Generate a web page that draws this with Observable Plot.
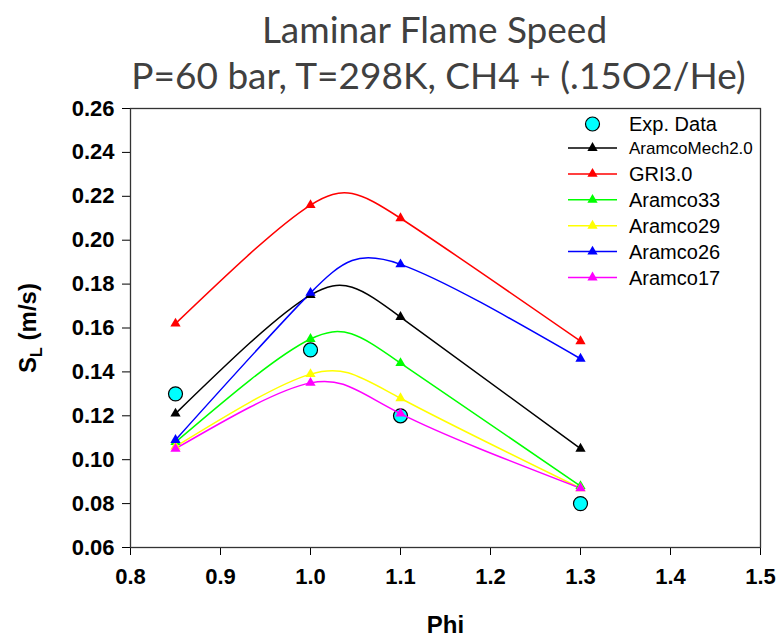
<!DOCTYPE html>
<html>
<head>
<meta charset="utf-8">
<script src="https://cdn.jsdelivr.net/npm/d3@7"></script>
<script src="https://cdn.jsdelivr.net/npm/@observablehq/plot@0.6"></script>
<style>
  body { margin: 0; background: #fff; }
  #chart { width: 781px; height: 641px; }
</style>
</head>
<body>
<div id="chart"></div>
<script>
// ---- data ----
const titleLines = ["Laminar Flame Speed", "P=60 bar, T=298K, CH4 + (.15O2/He)"];
const xLabel = "Phi";
const yLabelMain = "S";
const yLabelSub = "L";
const yLabelUnit = " (m/s)";
const phi = [0.85, 1.0, 1.1, 1.3];
const expData = [0.130, 0.150, 0.120, 0.080];
const aramcoMech20 = [0.121, 0.175, 0.165, 0.105];
const gri30 = [0.162, 0.216, 0.210, 0.154];
const aramco33 = [0.108, 0.155, 0.144, 0.088];
const aramco29 = [0.106, 0.139, 0.128, 0.087];
const aramco26 = [0.109, 0.176, 0.189, 0.146];
const aramco17 = [0.105, 0.135, 0.121, 0.087];
const seriesNames = ["AramcoMech2.0", "GRI3.0", "Aramco33", "Aramco29", "Aramco26", "Aramco17"];
const seriesValues = [aramcoMech20, gri30, aramco33, aramco29, aramco26, aramco17];
const seriesColors = ["#000000", "#ff0000", "#00ff00", "#ffff00", "#0000ff", "#ff00ff"];
const expName = "Exp. Data";
const xTicks = [0.8, 0.9, 1.0, 1.1, 1.2, 1.3, 1.4, 1.5];
const yTicks = [0.06, 0.08, 0.10, 0.12, 0.14, 0.16, 0.18, 0.20, 0.22, 0.24, 0.26];

// ---- tables ----
const modelRows = seriesNames.flatMap((name, i) =>
  phi.map((p, j) => ({series: name, phi: p, value: seriesValues[i][j]})));
const expRows = phi.map((p, j) => ({phi: p, value: expData[j]}));

const W = 781, H = 641;
const M = {top: 108, right: 21, bottom: 94, left: 130};
const arial = "'Liberation Sans', Arial, sans-serif";

const chart = Plot.plot({
  width: W,
  height: H,
  marginTop: M.top, marginRight: M.right, marginBottom: M.bottom, marginLeft: M.left,
  style: {fontFamily: arial, background: "#fff", overflow: "visible"},
  x: {domain: [0.8, 1.5]},
  y: {domain: [0.06, 0.26]},
  color: {domain: seriesNames, range: seriesColors},
  marks: [
    Plot.axisX({ticks: xTicks, tickFormat: d3.format(".1f"), tickSize: 8, tickPadding: 13,
      fontSize: 22, fontWeight: "bold", label: null}),
    Plot.axisY({ticks: yTicks, tickFormat: d3.format(".2f"), tickSize: 8, tickPadding: 8,
      fontSize: 22, fontWeight: "bold", label: null}),
    Plot.frame({stroke: "#333", strokeWidth: 1.3}),
    Plot.dot(expRows, {x: "phi", y: "value", r: 7, fill: "#00ffff", stroke: "#000", strokeWidth: 1.2}),
    Plot.line(modelRows, {x: "phi", y: "value", z: "series", stroke: "series", strokeWidth: 1.5, curve: "natural"}),
    Plot.dot(modelRows, {x: "phi", y: "value", fill: "series", symbol: "triangle", r: 3.8}),
    Plot.text([titleLines[0]], {text: d => d, frameAnchor: "top", lineAnchor: "middle", dx: -11, dy: -77,
      fontSize: 37, fontFamily: "Lato, 'Open Sans', sans-serif", fill: "#404040"}),
    Plot.text([titleLines[1]], {text: d => d, frameAnchor: "top", lineAnchor: "middle", dx: -7, dy: -31,
      fontSize: 37, fontFamily: "Lato, 'Open Sans', sans-serif", fill: "#404040"}),
    Plot.text([xLabel], {text: d => d, frameAnchor: "bottom", lineAnchor: "middle", dy: 78,
      fontSize: 24, fontWeight: "bold"}),
    Plot.text([yLabelMain], {text: d => d, frameAnchor: "left", lineAnchor: "middle", dx: -102, rotate: -90,
      fontSize: 24, fontWeight: "bold"})
  ]
});

document.getElementById("chart").appendChild(chart);
const svg = d3.select(chart);

// y label with subscript, centred manually along its baseline
const ylab = svg.selectAll("text").filter(function() {
  return this.textContent === yLabelMain && this.childElementCount === 0;
});
ylab.text(null);
ylab.append("tspan").text(yLabelMain);
ylab.append("tspan").attr("font-size", 16).attr("dy", "0.35em").text(yLabelSub);
ylab.append("tspan").attr("dy", "-0.24em").text(yLabelUnit);
if (!ylab.empty()) {
  const len = ylab.node().getComputedTextLength();
  const x0 = +(ylab.attr("x") || 0);
  ylab.attr("text-anchor", "start").attr("x", x0 - len / 2);
}

// legend (inside the plot area, top-right)
const lg = svg.append("g").attr("font-family", arial).attr("text-anchor", "start");
const rowY = i => i === 0 ? 124 : 148 + (i - 1) * 25.9;
const lineX0 = 568, lineX1 = 617, symX = 592.5, textX = 629;
lg.append("circle").attr("cx", symX).attr("cy", rowY(0)).attr("r", 7)
  .attr("fill", "#00ffff").attr("stroke", "#000").attr("stroke-width", 1.2);
lg.append("text").attr("x", textX).attr("y", rowY(0)).attr("dy", "0.36em")
  .attr("font-size", 20).attr("text-anchor", "start").text(expName);
const tri = d3.symbol(d3.symbolTriangle, Math.PI * 3.8 * 3.8)();
seriesNames.forEach((name, i) => {
  const y = rowY(i + 1);
  lg.append("line").attr("x1", lineX0).attr("x2", lineX1).attr("y1", y).attr("y2", y)
    .attr("stroke", seriesColors[i]).attr("stroke-width", 1.5);
  lg.append("path").attr("d", tri).attr("transform", `translate(${symX},${y})`).attr("fill", seriesColors[i]);
  lg.append("text").attr("x", textX).attr("y", y).attr("dy", "0.36em")
    .attr("font-size", i === 0 ? 17 : 20).attr("text-anchor", "start").text(name);
});
</script>
</body>
</html>
